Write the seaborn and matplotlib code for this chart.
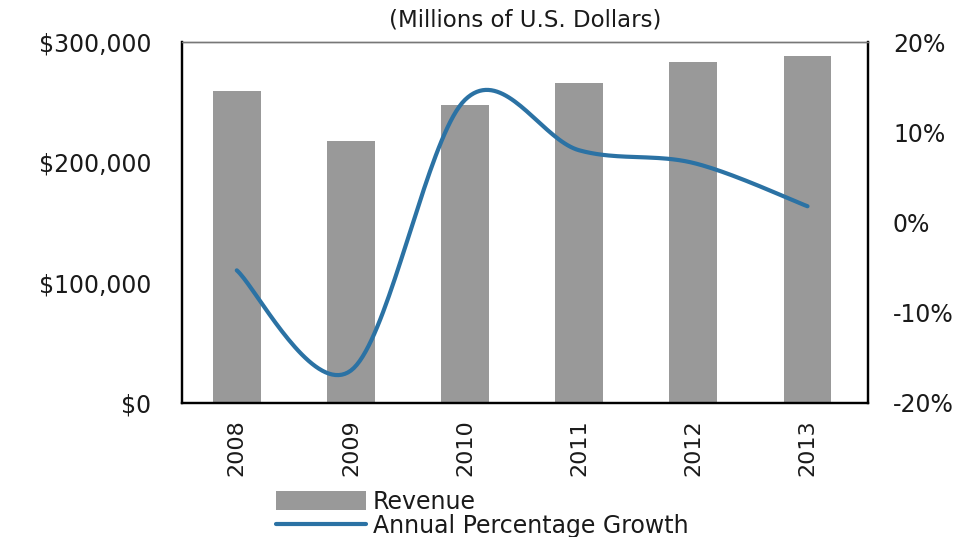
import numpy as np
import pandas as pd
import matplotlib
matplotlib.use("Agg")
import matplotlib.pyplot as plt
import seaborn as sns
from matplotlib.ticker import FuncFormatter
from matplotlib.patches import Patch
from matplotlib.lines import Line2D

years = ["2008", "2009", "2010", "2011", "2012", "2013"]
revenue = [259300, 217700, 247600, 265900, 283400, 288400]
growth = [-5.3, -16.4, 13.6, 8.0, 6.6, 1.8]
left_ticks = [0, 100000, 200000, 300000]
right_ticks = [-20, -10, 0, 10, 20]
title = "(Millions of U.S. Dollars)"
legend_labels = ["Revenue", "Annual Percentage Growth"]

sns.set_theme(style="white")
plt.rcParams["font.family"] = ["DejaVu Sans"]

df = pd.DataFrame({"year": years, "revenue": revenue, "growth": growth})

fig = plt.figure(figsize=(9.74, 5.37), dpi=100)
ax = fig.add_axes([182 / 974, 1 - 403 / 537, (868 - 182) / 974, (403 - 42) / 537])

sns.barplot(data=df, x="year", y="revenue", color="#999999", width=0.42,
            saturation=1, ax=ax, zorder=1)
for p in ax.patches:
    p.set_edgecolor("none")

ax.set_xlim(-0.48, 5.53)
ax.set_ylim(0, 300000)
ax.set_yticks(left_ticks)
ax.yaxis.set_major_formatter(FuncFormatter(lambda v, _: f"${v:,.0f}"))
ax.set_xlabel("")
ax.set_ylabel("")
ax.tick_params(axis="y", length=0, pad=22, labelsize=17, colors="#1a1a1a")
ax.tick_params(axis="x", length=0, pad=12, labelsize=16, rotation=90, colors="#1a1a1a")

# Smoothed growth line (Bezier through data points, Excel style)
xs = np.arange(len(growth), dtype=float)
ys = np.array(growth, dtype=float)
cx, cy = [], []
n = len(xs)
t = np.linspace(0, 1, 40)
for i in range(n - 1):
    x0, y0 = (xs[i - 1], ys[i - 1]) if i > 0 else (xs[i], ys[i])
    x3, y3 = (xs[i + 2], ys[i + 2]) if i + 2 < n else (xs[i + 1], ys[i + 1])
    p1 = np.array([xs[i], ys[i]])
    p2 = np.array([xs[i + 1], ys[i + 1]])
    c1 = p1 + (p2 - np.array([x0, y0])) / 6
    c2 = p2 - (np.array([x3, y3]) - p1) / 6
    pts = ((1 - t) ** 3)[:, None] * p1 + (3 * (1 - t) ** 2 * t)[:, None] * c1 \
        + (3 * (1 - t) * t ** 2)[:, None] * c2 + (t ** 3)[:, None] * p2
    cx.extend(pts[:, 0]); cy.extend(pts[:, 1])

ax2 = ax.twinx()
sns.lineplot(x=cx, y=cy, ax=ax2, color="#2b72a4", linewidth=3, sort=False,
             estimator=None)
ax2.set_ylim(-20, 20)
ax2.set_yticks(right_ticks)
ax2.yaxis.set_major_formatter(FuncFormatter(lambda v, _: f"{v:.0f}%"))
ax2.tick_params(axis="y", length=0, pad=18, labelsize=17, colors="#1a1a1a")
ax2.set_xlim(-0.48, 5.53)

for a in (ax, ax2):
    for s in ("left", "bottom", "right"):
        a.spines[s].set_color("black")
        a.spines[s].set_linewidth(1.6)
    a.spines["top"].set_color("#777777")
    a.spines["top"].set_linewidth(1.0)
    a.grid(False)

fig.text(525 / 974, 1 - 20 / 537, title, ha="center", va="center", fontsize=16.5,
         color="#1a1a1a")

handles = [Patch(facecolor="#999999", edgecolor="none"),
           Line2D([0], [0], color="#2b72a4", linewidth=3)]
fig.legend(handles, legend_labels, loc="upper left",
           bbox_to_anchor=(276 / 974, 1 - 490 / 537), frameon=False,
           fontsize=17, handlelength=3.8, handleheight=0.85, handletextpad=0.3,
           labelspacing=0.0, borderaxespad=0, borderpad=0, labelcolor="#1a1a1a")

fig.savefig("out.png", dpi=100)
